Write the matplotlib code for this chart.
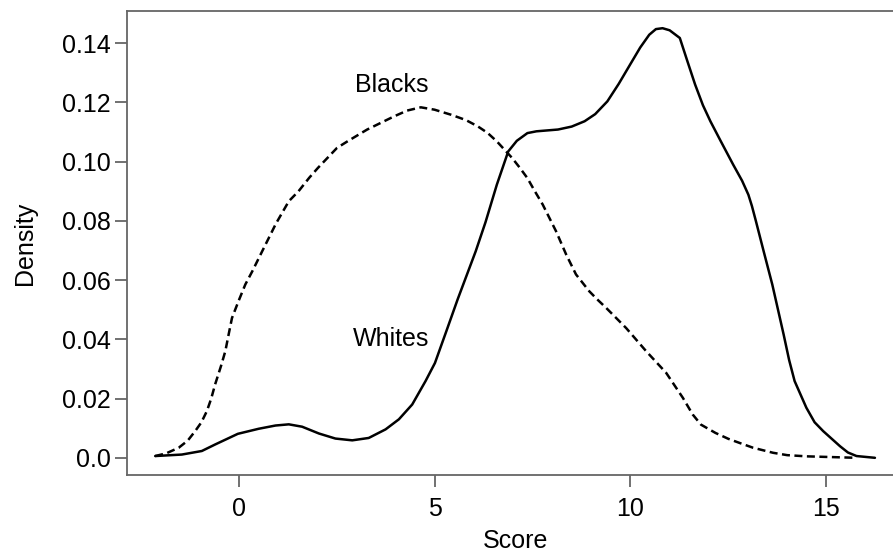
from matplotlib import pyplot as plt
import numpy as np

plt.rcParams['font.family'] = ['Liberation Sans', 'DejaVu Sans']

# Kernel density estimates of test score, by group
whites_score = [-2.13, -1.45, -0.94, -0.60, -0.02, 0.51, 0.94, 1.28, 1.62, 2.05,
                2.47, 2.90, 3.32, 3.75, 4.09, 4.43, 4.77, 5.01, 5.30, 5.59,
                6.05, 6.30, 6.59, 6.88, 7.10, 7.37, 7.60, 8.15, 8.50, 8.83,
                9.10, 9.41, 9.70, 9.99, 10.25, 10.48, 10.65, 10.82, 11.00, 11.26,
                11.45, 11.65, 11.85, 12.04, 12.30, 12.62, 12.85, 13.01, 13.10, 13.20,
                13.40, 13.62, 13.91, 14.05, 14.19, 14.49, 14.70, 14.92, 15.35, 15.55,
                15.77, 16.24]
whites_density = [0.0006, 0.0011, 0.0023, 0.0045, 0.0081, 0.0098, 0.0109, 0.0113, 0.0105, 0.0082,
                  0.0065, 0.0059, 0.0067, 0.0096, 0.0130, 0.0180, 0.0259, 0.0320, 0.0427, 0.0535,
                  0.0697, 0.0795, 0.0922, 0.1034, 0.1070, 0.1096, 0.1102, 0.1108, 0.1118, 0.1136,
                  0.1160, 0.1203, 0.1262, 0.1327, 0.1385, 0.1428, 0.1447, 0.1450, 0.1443, 0.1417,
                  0.1340, 0.1260, 0.1190, 0.1136, 0.1070, 0.0990, 0.0935, 0.0888, 0.0850, 0.0800,
                  0.0697, 0.0585, 0.0416, 0.0330, 0.0259, 0.0169, 0.0120, 0.0090, 0.0039, 0.0018,
                  0.0006, 0.0]

blacks_score = [-2.13, -1.85, -1.53, -1.30, -1.11, -0.95, -0.81, -0.70, -0.60, -0.45,
                -0.34, -0.25, -0.17, 0.0, 0.17, 0.35, 0.60, 0.95, 1.28, 1.53,
                1.80, 2.02, 2.51, 2.80, 3.28, 3.96, 4.30, 4.65, 5.00, 5.42,
                5.80, 6.10, 6.35, 6.59, 6.98, 7.17, 7.37, 7.55, 7.76, 8.10,
                8.36, 8.61, 8.95, 9.15, 9.38, 9.89, 10.40, 10.91, 11.34, 11.59,
                11.80, 12.17, 12.50, 12.79, 13.13, 13.64, 14.00, 14.49, 15.77]
blacks_density = [0.0006, 0.0015, 0.0034, 0.0058, 0.0090, 0.0120, 0.0158, 0.0200, 0.0248, 0.0310,
                  0.0360, 0.0420, 0.0472, 0.0530, 0.0585, 0.0630, 0.0697, 0.0790, 0.0866, 0.0900,
                  0.0945, 0.0978, 0.1046, 0.1070, 0.1108, 0.1152, 0.1172, 0.1183, 0.1175, 0.1158,
                  0.1140, 0.1119, 0.1097, 0.1068, 0.1012, 0.0980, 0.0944, 0.0902, 0.0855, 0.0765,
                  0.0686, 0.0619, 0.0562, 0.0535, 0.0506, 0.0438, 0.0360, 0.0287, 0.0202, 0.0146,
                  0.0112, 0.0084, 0.0064, 0.0050, 0.0034, 0.0017, 0.0009, 0.0005, 0.0]

x_ticks = [0, 5, 10, 15]
y_ticks = [0.0, 0.02, 0.04, 0.06, 0.08, 0.10, 0.12, 0.14]
y_tick_labels = ["0.0", "0.02", "0.04", "0.06", "0.08", "0.10", "0.12", "0.14"]

fig = plt.figure(figsize=(8.93, 5.54), dpi=100)
ax = fig.add_axes([0.1422, 0.1426, 0.8696, 0.8375])

ax.plot(whites_score, whites_density, color='black', lw=1.8,
        solid_joinstyle='round', solid_capstyle='round')
ax.plot(blacks_score, blacks_density, color='black', lw=1.8, linestyle=(0, (3.2, 1.8)),
        dash_joinstyle='round')

ax.text(3.9, 0.126, "Blacks", fontsize=18, ha='center', va='center')
ax.text(3.9, 0.040, "Whites", fontsize=18, ha='center', va='center')

ax.set_xlim(-2.85, 16.97)
ax.set_ylim(-0.0058, 0.1508)
ax.set_xticks(x_ticks)
ax.set_yticks(y_ticks)
ax.set_yticklabels(y_tick_labels)

for side in ax.spines:
    ax.spines[side].set_color('#666666')
    ax.spines[side].set_linewidth(1.3)
ax.tick_params(axis='both', direction='out', length=8.6, width=1.3, color='#666666',
               labelsize=18, labelcolor='black')
ax.tick_params(axis='x', pad=7)
ax.tick_params(axis='y', pad=3)

ax.set_xlabel("Score", fontsize=18, labelpad=6)
ax.set_ylabel("Density", fontsize=18, labelpad=18)

plt.savefig("out.png", dpi=100)
